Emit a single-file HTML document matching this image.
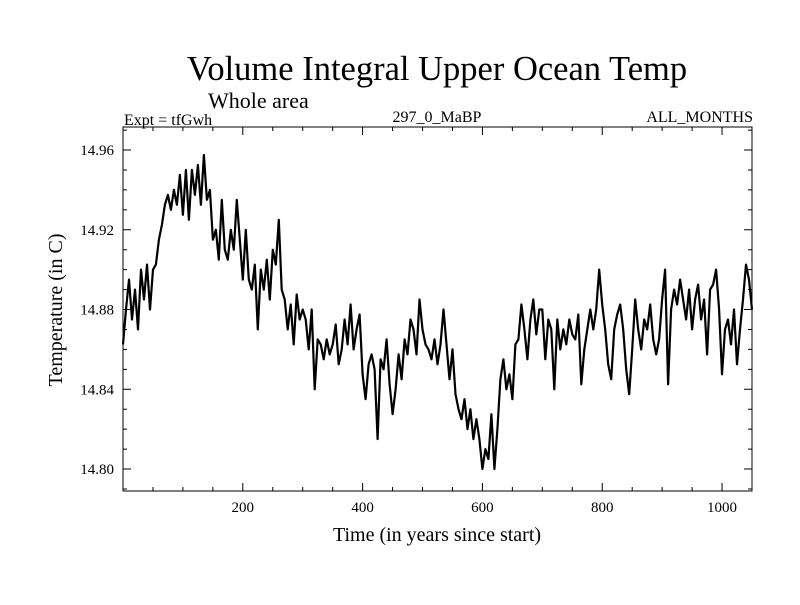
<!DOCTYPE html>
<html><head><meta charset="utf-8"><style>
body{margin:0;background:#fff}
svg text{font-family:"Liberation Serif",serif;fill:#000}
</style></head><body>
<svg id="chart" width="800" height="600" xmlns="http://www.w3.org/2000/svg">
<text x="437" y="80" font-size="34.5" text-anchor="middle">Volume Integral Upper Ocean Temp</text>
<text x="208" y="108" font-size="22">Whole area</text>
<text x="124" y="125" font-size="16">Expt = tfGwh</text>
<text x="437" y="122" font-size="16" text-anchor="middle">297_0_MaBP</text>
<text x="753" y="122" font-size="16" text-anchor="end">ALL_MONTHS</text>
<text transform="translate(62,310) rotate(-90)" font-size="20" text-anchor="middle">Temperature (in C)</text>
<text x="437" y="541" font-size="20" text-anchor="middle">Time (in years since start)</text>
<g id="ticks"></g>
<g id="labels"></g>
<path id="series" fill="none" stroke="#000" stroke-width="2.2" stroke-linejoin="round"/>
<rect x="123" y="127" width="629" height="364" fill="none" stroke="#000" stroke-width="1"/>
</svg>
<script>
const years=[0,5,10,15,20,25,30,35,40,45,50,55,60,65,70,75,80,85,90,95,100,105,110,115,120,125,130,135,140,145,150,155,160,165,170,175,180,185,190,195,200,205,210,215,220,225,230,235,240,245,250,255,260,265,270,275,280,285,290,295,300,305,310,315,320,325,330,335,340,345,350,355,360,365,370,375,380,385,390,395,400,405,410,415,420,425,430,435,440,445,450,455,460,465,470,475,480,485,490,495,500,505,510,515,520,525,530,535,540,545,550,555,560,565,570,575,580,585,590,595,600,605,610,615,620,625,630,635,640,645,650,655,660,665,670,675,680,685,690,695,700,705,710,715,720,725,730,735,740,745,750,755,760,765,770,775,780,785,790,795,800,805,810,815,820,825,830,835,840,845,850,855,860,865,870,875,880,885,890,895,900,905,910,915,920,925,930,935,940,945,950,955,960,965,970,975,980,985,990,995,1000,1005,1010,1015,1020,1025,1030,1035,1040,1045,1050];
const temps=[14.8625,14.880,14.895,14.875,14.890,14.870,14.900,14.885,14.9025,14.880,14.900,14.9025,14.915,14.9225,14.9325,14.9375,14.930,14.940,14.9325,14.9475,14.9275,14.950,14.925,14.950,14.9375,14.9525,14.9325,14.9575,14.935,14.940,14.915,14.920,14.905,14.935,14.910,14.905,14.920,14.910,14.935,14.915,14.895,14.920,14.895,14.890,14.9025,14.870,14.900,14.890,14.905,14.885,14.910,14.9025,14.925,14.890,14.885,14.870,14.8825,14.8625,14.8875,14.875,14.880,14.875,14.860,14.880,14.840,14.865,14.8625,14.855,14.865,14.8575,14.8625,14.8725,14.8525,14.860,14.875,14.8625,14.8825,14.860,14.870,14.8775,14.8475,14.835,14.8525,14.8575,14.850,14.815,14.855,14.850,14.865,14.8425,14.8275,14.840,14.8575,14.845,14.865,14.8575,14.875,14.870,14.8575,14.885,14.870,14.8625,14.860,14.855,14.865,14.8525,14.8625,14.880,14.8625,14.845,14.860,14.8375,14.830,14.825,14.835,14.820,14.830,14.815,14.825,14.815,14.800,14.810,14.805,14.8275,14.800,14.820,14.845,14.855,14.840,14.8475,14.835,14.8625,14.865,14.8825,14.870,14.855,14.875,14.885,14.8675,14.880,14.880,14.855,14.875,14.870,14.840,14.875,14.860,14.870,14.8625,14.875,14.8675,14.865,14.8775,14.8425,14.860,14.870,14.880,14.870,14.880,14.900,14.8825,14.870,14.8525,14.845,14.870,14.8775,14.8825,14.870,14.850,14.8375,14.860,14.885,14.870,14.860,14.875,14.870,14.8825,14.865,14.8575,14.865,14.885,14.900,14.8425,14.880,14.890,14.8825,14.895,14.885,14.875,14.890,14.870,14.885,14.8925,14.875,14.885,14.8575,14.890,14.8925,14.900,14.880,14.8475,14.870,14.875,14.8625,14.880,14.8525,14.870,14.885,14.9025,14.895,14.880];
const xTickLabels=[200,400,600,800,1000];
const yTickLabels=[14.80,14.84,14.88,14.92,14.96];
const X0=123,X1=752,Y0=127,Y1=491,xmin=0,xmax=1050;
function xs(v){return X0+(v-xmin)/(xmax-xmin)*(X1-X0);}
function ys(v){return 469-(v-14.80)/0.16*319;}
const NS='http://www.w3.org/2000/svg';
const tg=document.getElementById('ticks'),lg=document.getElementById('labels');
let d='';
function ln(x1,y1,x2,y2){d+='M'+x1+' '+y1+'L'+x2+' '+y2;}
for(let v=50;v<xmax;v+=50){const x=xs(v),L=(v%200===0)?8:4;ln(x,Y1,x,Y1-L);ln(x,Y0,x,Y0+L);}
for(let v=14.79;v<=14.975;v+=0.01){const y=ys(v);if(y<Y0||y>Y1)continue;const maj=Math.abs(Math.round(v*100)%4)===0;const L=maj?8:4;ln(X0,y,X0+L,y);ln(X1,y,X1-L,y);}
const tp=document.createElementNS(NS,'path');
tp.setAttribute('d',d);tp.setAttribute('stroke','#000');tp.setAttribute('stroke-width','1');


tg.appendChild(tp);
xTickLabels.forEach(v=>{const t=document.createElementNS(NS,'text');t.setAttribute('x',xs(v));t.setAttribute('y',512);t.setAttribute('font-size','15');t.setAttribute('text-anchor','middle');t.textContent=v;


lg.appendChild(t);});
yTickLabels.forEach(v=>{const t=document.createElementNS(NS,'text');t.setAttribute('x',114);t.setAttribute('y',ys(v)+5);t.setAttribute('font-size','15');t.setAttribute('text-anchor','end');t.textContent=v.toFixed(2);


lg.appendChild(t);});
document.getElementById('series').setAttribute('d',years.map((y,i)=>(i?'L':'M')+xs(y).toFixed(1)+' '+ys(temps[i]).toFixed(1)).join(''));
</script>
</body></html>
